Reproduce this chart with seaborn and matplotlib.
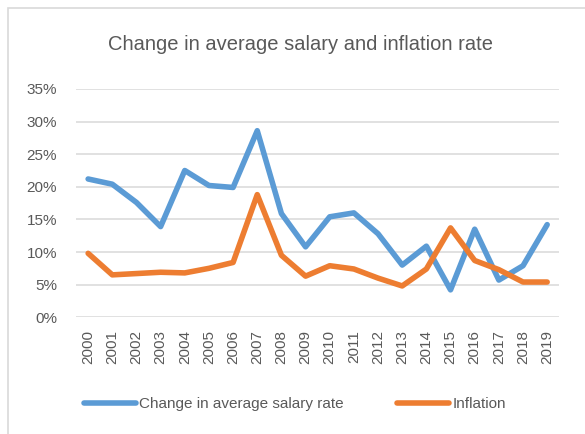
import numpy as np
import pandas as pd
import seaborn as sns
from matplotlib import pyplot as plt
from matplotlib.patches import Rectangle
from matplotlib.ticker import PercentFormatter

years = [str(y) for y in range(2000, 2020)]
salary_change = [21.2, 20.4, 17.6, 13.9, 22.5, 20.2, 19.9, 28.6, 15.9, 10.8,
                 15.4, 16.0, 12.8, 8.0, 10.9, 4.2, 13.5, 5.7, 7.9, 14.2]
inflation = [9.8, 6.5, 6.7, 6.9, 6.8, 7.5, 8.4, 18.8, 9.5, 6.3,
             7.9, 7.4, 6.0, 4.8, 7.4, 13.7, 8.7, 7.3, 5.4, 5.4]

df = pd.DataFrame({"Year": years,
                   "Change in average salary rate": salary_change,
                   "Inflation": inflation})
long_df = df.melt(id_vars="Year", var_name="Series", value_name="Rate")

sns.set_style("white")
plt.rcParams['font.family'] = ['Liberation Sans', 'DejaVu Sans']
text_color = "#595959"

fig = plt.figure(figsize=(5.85, 4.34), dpi=100)
ax = fig.add_axes([0.13, 0.269, 0.826, 0.526])

# excel-style chart border
fig.patches.append(Rectangle((8 / 585, -0.05), 1.2, 1 - 8 / 434 + 0.05,
                             transform=fig.transFigure, fill=False,
                             edgecolor="#D9D9D9", linewidth=1.2))

sns.lineplot(data=long_df, x="Year", y="Rate", hue="Series",
             palette=["#5B9BD5", "#ED7D31"], linewidth=4,
             ax=ax, legend=False, sort=False)

ax.set_ylim(0, 35)
ax.set_xlim(-0.5, len(years) - 0.5)
ax.set_yticks(np.arange(0, 36, 5))
ax.yaxis.set_major_formatter(PercentFormatter(decimals=0))
ax.grid(axis="y", color="#D9D9D9", linewidth=1.1)
ax.set_axisbelow(True)
sns.despine(ax=ax, left=True, bottom=True, top=True, right=True)
ax.tick_params(axis="both", length=0, colors=text_color, labelsize=11)
ax.tick_params(axis="y", pad=13.7)
ax.tick_params(axis="x", pad=9)
plt.setp(ax.get_xticklabels(), rotation=90)
ax.set_xlabel("")
ax.set_ylabel("")

fig.text(0.513, 0.898, "Change in average salary and inflation rate",
         ha="center", va="center", fontsize=14.5, color=text_color)

handles = [plt.Line2D([], [], color="#5B9BD5", linewidth=4, solid_capstyle="round"),
           plt.Line2D([], [], color="#ED7D31", linewidth=4, solid_capstyle="round")]
fig.legend(handles, ["Change in average salary rate", "Inflation"],
           loc="center left", bbox_to_anchor=(0.144, 0.069), ncol=2, frameon=False,
           fontsize=11, labelcolor=text_color, handlelength=3.4,
           handletextpad=0.2, columnspacing=3.5, borderpad=0, borderaxespad=0)

fig.savefig("out.png", dpi=100)
